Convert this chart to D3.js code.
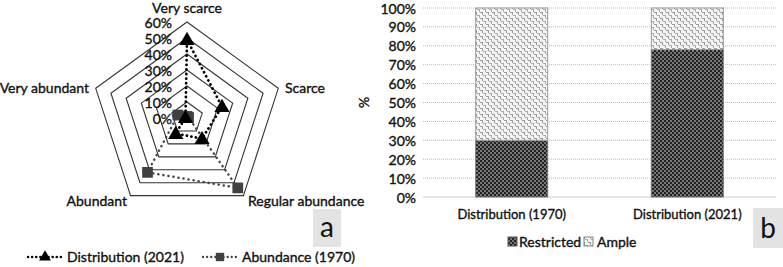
<!DOCTYPE html>
<html>
<head>
<meta charset="utf-8">
<script src="https://cdn.jsdelivr.net/npm/d3@7"></script>
<style>
  body { margin: 0; background: #fff; }
  svg { display: block; font-family: Lato, "Open Sans", sans-serif; }
  .lbl { font-size: 14px; fill: #111; stroke: #111; stroke-width: 0.35px; }
  .tick-lbl { font-size: 14px; fill: #111; stroke: #111; stroke-width: 0.35px; }
  .cat { font-size: 13px; fill: #111; stroke: #111; stroke-width: 0.35px; }
</style>
</head>
<body>
<svg id="chart" width="783" height="267"></svg>
<script>
// radar (a)
const radarAxes = ["Very scarce", "Scarce", "Regular abundance", "Abundant", "Very abundant"];
const distribution2021 = [0.49, 0.23, 0.16, 0.12, 0.01];
const abundance1970 = [0.01, 0.01, 0.54, 0.42, 0.06];
const radarTicks = [0, 0.1, 0.2, 0.3, 0.4, 0.5, 0.6];

// stacked bars (b)
const barCategories = ["Distribution (1970)", "Distribution (2021)"];
const restricted = [0.30, 0.78];
const ample = [0.70, 0.22];
const barTicks = [0, 0.1, 0.2, 0.3, 0.4, 0.5, 0.6, 0.7, 0.8, 0.9, 1.0];

const svg = d3.select("#chart");
const defs = svg.append("defs");

// dark checker pattern
const pR = defs.append("pattern").attr("id", "pRestricted")
  .attr("patternUnits", "userSpaceOnUse").attr("width", 4).attr("height", 4);
pR.append("rect").attr("width", 4).attr("height", 4).attr("fill", "#777");
pR.append("rect").attr("width", 2).attr("height", 2).attr("fill", "#222");
pR.append("rect").attr("x", 2).attr("y", 2).attr("width", 2).attr("height", 2).attr("fill", "#222");

// light squiggle pattern
const pA = defs.append("pattern").attr("id", "pAmple")
  .attr("patternUnits", "userSpaceOnUse").attr("width", 6).attr("height", 6);
pA.append("rect").attr("width", 6).attr("height", 6).attr("fill", "#f4f4f4");
pA.append("rect").attr("x", 0).attr("y", 0).attr("width", 3).attr("height", 1).attr("fill", "#9a9a9a");
pA.append("rect").attr("x", 2).attr("y", 1).attr("width", 1).attr("height", 2).attr("fill", "#9a9a9a");
pA.append("rect").attr("x", 3).attr("y", 3).attr("width", 3).attr("height", 1).attr("fill", "#aaa");
pA.append("rect").attr("x", 5).attr("y", 4).attr("width", 1).attr("height", 2).attr("fill", "#aaa");

// ---------- radar ----------
const cx = 187, cy = 118;
const rScale = d3.scaleLinear().domain([0, 0.6]).range([0, 96]);
const angle = i => i * 2 * Math.PI / radarAxes.length;
const pt = (i, v) => [cx + rScale(v) * Math.sin(angle(i)), cy - rScale(v) * Math.cos(angle(i))];

const radar = svg.append("g");

radar.selectAll(".ring")
  .data(radarTicks.slice(1))
  .join("polygon")
  .attr("points", t => radarAxes.map((a, i) => pt(i, t).join(",")).join(" "))
  .attr("fill", "none")
  .attr("stroke", "#333")
  .attr("stroke-width", 1.1);

radar.selectAll(".rtick")
  .data(radarTicks)
  .join("text")
  .attr("class", "tick-lbl")
  .attr("x", cx - 15)
  .attr("y", t => cy - rScale(t) + 5.5)
  .attr("text-anchor", "end")
  .text(t => d3.format(".0%")(t));

const axisLabelPos = [
  { dx: 0, dy: -105.5, anchor: "middle" },
  { dx: 98, dy: -25, anchor: "start" },
  { dx: 61, dy: 88, anchor: "start" },
  { dx: -60, dy: 88, anchor: "end" },
  { dx: -98, dy: -25, anchor: "end" }
];
radar.selectAll(".axl")
  .data(radarAxes)
  .join("text")
  .attr("class", "lbl")
  .attr("x", (d, i) => cx + axisLabelPos[i].dx)
  .attr("y", (d, i) => cy + axisLabelPos[i].dy)
  .attr("text-anchor", (d, i) => axisLabelPos[i].anchor)
  .text(d => d);

const line = d3.line().curve(d3.curveLinearClosed);

radar.append("path")
  .attr("d", line(abundance1970.map((v, i) => pt(i, v))))
  .attr("fill", "none")
  .attr("stroke", "#444")
  .attr("stroke-width", 2.5)
  .attr("stroke-dasharray", "0.1 5")
  .attr("stroke-linecap", "round");

radar.append("path")
  .attr("d", line(distribution2021.map((v, i) => pt(i, v))))
  .attr("fill", "none")
  .attr("stroke", "#000")
  .attr("stroke-width", 2.8)
  .attr("stroke-dasharray", "0.1 4.5")
  .attr("stroke-linecap", "round");

const sq = d3.symbol().type(d3.symbolSquare).size(115);
const tri = d3.symbol().type(d3.symbolTriangle).size(100);

radar.selectAll(".sq")
  .data(abundance1970)
  .join("path")
  .attr("transform", (v, i) => `translate(${pt(i, v)})`)
  .attr("d", sq)
  .attr("fill", "#404040");

radar.selectAll(".tri")
  .data(distribution2021)
  .join("path")
  .attr("transform", (v, i) => { const p = pt(i, v); return `translate(${p[0]},${p[1] + 1})`; })
  .attr("d", tri)
  .attr("fill", "#000");

// radar legend
const lg = svg.append("g").attr("transform", "translate(0,257)");
lg.append("line").attr("x1", 28).attr("x2", 62).attr("y1", 0).attr("y2", 0)
  .attr("stroke", "#000").attr("stroke-width", 2.5)
  .attr("stroke-dasharray", "0.1 4").attr("stroke-linecap", "round");
lg.append("path").attr("transform", "translate(45,0)").attr("d", d3.symbol().type(d3.symbolTriangle).size(60)).attr("fill", "#000");
lg.append("text").attr("class", "lbl").attr("x", 67).attr("y", 5).text("Distribution (2021)");
lg.append("line").attr("x1", 203).attr("x2", 237).attr("y1", 0).attr("y2", 0)
  .attr("stroke", "#444").attr("stroke-width", 2.3)
  .attr("stroke-dasharray", "0.1 4").attr("stroke-linecap", "round");
lg.append("path").attr("transform", "translate(220,0)").attr("d", d3.symbol().type(d3.symbolSquare).size(70)).attr("fill", "#404040");
lg.append("text").attr("class", "lbl").attr("x", 242).attr("y", 5).text("Abundance (1970)");

// panel tags
function tag(x, y, w, h, t) {
  svg.append("rect").attr("x", x).attr("y", y).attr("width", w).attr("height", h).attr("fill", "#e3e3e3");
  svg.append("text").attr("x", x + w / 2).attr("y", y + h - 10)
    .attr("text-anchor", "middle").attr("font-size", 28).attr("fill", "#111").text(t);
}
tag(313, 209, 28, 38, "a");
tag(753, 208, 30, 40, "b");

// ---------- stacked bars ----------
const bx0 = 423, bx1 = 776, by0 = 8, by1 = 197;
const xB = d3.scaleBand().domain(barCategories).range([bx0, bx1]).paddingInner(0.59).paddingOuter(0.3);
const yB = d3.scaleLinear().domain([0, 1]).range([by1, by0]);

const bars = svg.append("g");

bars.selectAll(".grid")
  .data(barTicks.slice(1))
  .join("line")
  .attr("x1", bx0).attr("x2", bx1)
  .attr("y1", t => yB(t)).attr("y2", t => yB(t))
  .attr("stroke", "#bbb")
  .attr("stroke-dasharray", "1 1");

bars.append("line")
  .attr("x1", bx0).attr("x2", bx1)
  .attr("y1", yB(0)).attr("y2", yB(0))
  .attr("stroke", "#ccc").attr("stroke-width", 1.2);

bars.selectAll(".btick")
  .data(barTicks)
  .join("text")
  .attr("class", "tick-lbl")
  .attr("font-size", 14.5)
  .attr("x", 416)
  .attr("y", t => yB(t) + 5.5)
  .attr("text-anchor", "end")
  .text(t => d3.format(".0%")(t));

bars.append("text")
  .attr("class", "lbl")
  .attr("transform", `translate(369,${(by0 + by1) / 2}) rotate(-90)`)
  .attr("text-anchor", "middle")
  .attr("font-size", 12)
  .text("%");

bars.selectAll(".rbar")
  .data(barCategories)
  .join("rect")
  .attr("x", d => xB(d))
  .attr("width", xB.bandwidth())
  .attr("y", (d, i) => yB(restricted[i]))
  .attr("height", (d, i) => yB(0) - yB(restricted[i]))
  .attr("fill", "url(#pRestricted)")
  .attr("stroke", "#777").attr("stroke-width", 1);

bars.selectAll(".abar")
  .data(barCategories)
  .join("rect")
  .attr("x", d => xB(d))
  .attr("width", xB.bandwidth())
  .attr("y", (d, i) => yB(restricted[i] + ample[i]))
  .attr("height", (d, i) => yB(restricted[i]) - yB(restricted[i] + ample[i]))
  .attr("fill", "url(#pAmple)")
  .attr("stroke", "#999").attr("stroke-width", 1);

bars.selectAll(".catl")
  .data(barCategories)
  .join("text")
  .attr("class", "cat")
  .attr("x", d => xB(d) + xB.bandwidth() / 2)
  .attr("y", 219)
  .attr("text-anchor", "middle")
  .text(d => d);

const blg = svg.append("g").attr("transform", "translate(0,242)");
blg.append("rect").attr("x", 508).attr("y", -5).attr("width", 9).attr("height", 9)
  .attr("fill", "url(#pRestricted)").attr("stroke", "#555");
blg.append("text").attr("class", "lbl").attr("x", 519).attr("y", 5).text("Restricted");
blg.append("rect").attr("x", 584).attr("y", -5).attr("width", 9).attr("height", 9)
  .attr("fill", "url(#pAmple)").attr("stroke", "#888");
blg.append("text").attr("class", "lbl").attr("x", 597).attr("y", 5).text("Ample");
</script>
</body>
</html>
